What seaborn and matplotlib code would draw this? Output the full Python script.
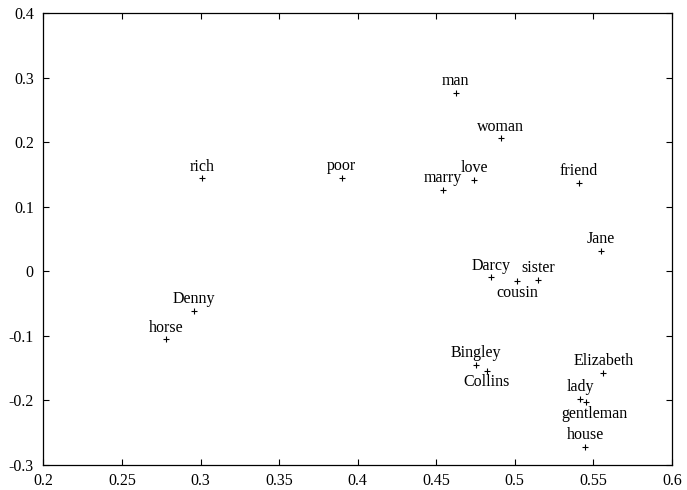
import matplotlib
matplotlib.use("Agg")
import matplotlib.pyplot as plt
import seaborn as sns
import pandas as pd

words = ["rich", "poor", "man", "woman", "love", "marry", "friend", "Jane",
         "Darcy", "cousin", "sister", "Bingley", "Collins", "Elizabeth",
         "lady", "gentleman", "house", "Denny", "horse"]
xs = [0.3007, 0.3898, 0.4624, 0.4912, 0.4742, 0.4541, 0.5407, 0.5550,
      0.4847, 0.5016, 0.5148, 0.4753, 0.4821, 0.5563,
      0.5415, 0.5453, 0.5447, 0.2960, 0.2780]
ys = [0.144, 0.145, 0.277, 0.206, 0.1416, 0.126, 0.137, 0.032,
      -0.0093, -0.0155, -0.0135, -0.1448, -0.154, -0.157,
      -0.1975, -0.2026, -0.272, -0.061, -0.1054]
# label placement: 'a' = above, 'b' = below
placement = ["a", "a", "a", "a", "a", "a", "a", "a",
             "a", "b", "a", "a", "b", "a",
             "a", "b", "a", "a", "a"]

xticks = [0.2, 0.25, 0.3, 0.35, 0.4, 0.45, 0.5, 0.55, 0.6]
yticks = [-0.3, -0.2, -0.1, 0, 0.1, 0.2, 0.3, 0.4]
xtick_labels = ["0.2", "0.25", "0.3", "0.35", "0.4", "0.45", "0.5", "0.55", "0.6"]
ytick_labels = ["-0.3", "-0.2", "-0.1", "0", "0.1", "0.2", "0.3", "0.4"]

df = pd.DataFrame({"x": xs, "y": ys, "word": words, "pos": placement})

sns.set_style("ticks")
plt.rcParams["font.family"] = ["Liberation Serif", "DejaVu Serif"]

fig = plt.figure(figsize=(6.87, 4.90), dpi=100)
ax = fig.add_subplot(111)
fig.subplots_adjust(left=0.0633, right=0.978, top=0.9729, bottom=0.051)

sns.scatterplot(data=df, x="x", y="y", marker="+", color="black", s=20,
                linewidth=0.8, ax=ax, legend=False)

for _, r in df.iterrows():
    dy = 8.5 if r["pos"] == "a" else -8.3
    dx = 6.5 if r["word"] == "gentleman" else 0
    ax.annotate(r["word"], (r["x"], r["y"]), xytext=(dx, dy),
                textcoords="offset points", ha="center", va="center",
                fontsize=11.5, color="black")

ax.set_xlim(0.2, 0.6)
ax.set_ylim(-0.3, 0.4)
ax.set_xticks(xticks)
ax.set_xticklabels(xtick_labels)
ax.set_yticks(yticks)
ax.set_yticklabels(ytick_labels)
ax.set_xlabel("")
ax.set_ylabel("")
ax.tick_params(direction="in", length=4, width=0.8, top=True, right=True,
               labelsize=11.5, colors="black")
ax.tick_params(axis="x", pad=6)
ax.tick_params(axis="y", pad=7)
for sp in ax.spines.values():
    sp.set_visible(True)
    sp.set_linewidth(0.9)
    sp.set_color("black")

fig.savefig("out.png", dpi=100)
